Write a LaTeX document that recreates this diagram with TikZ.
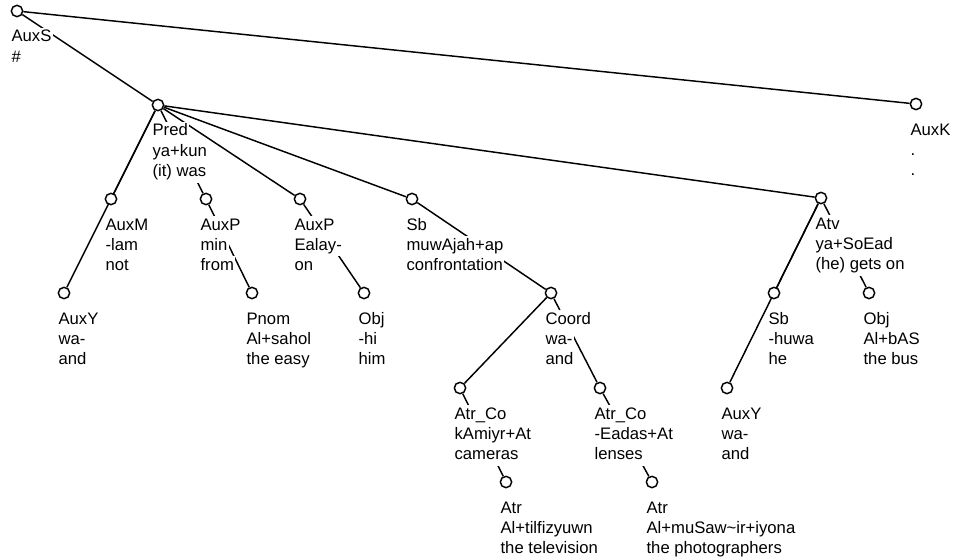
\documentclass[tikz,border=0pt]{standalone}
\usepackage{fontspec}
\setmainfont{Liberation Sans}
\usetikzlibrary{backgrounds}
\setlength{\fboxsep}{1pt}
% each text line sits on its own white box of full line height,
% so edges pass behind the label without showing between its lines
\newcommand\linestrut{\rule[-3.6pt]{0pt}{13.2pt}}
\newcommand\wb[1]{\colorbox{white}{\linestrut#1}}
\newcommand\twolines[2]{\vtop{\hbox{\wb{#1}}\hbox{\wb{#2}}}}
\newcommand\threelines[3]{\vtop{\hbox{\wb{#1}}\hbox{\wb{#2}}\hbox{\wb{#3}}}}
\tikzset{
  tok/.style={circle, draw=black, fill=white, line width=1.1pt, minimum size=8.5pt, inner sep=0pt},
  lab/.style={anchor=base west, inner sep=0pt, font=\fontsize{12.5}{15.2}\selectfont},
  edge/.style={line width=1.1pt, black}
}
\begin{document}
\begin{tikzpicture}[x=0.75pt, y=-0.75pt]
\useasboundingbox (0,0) rectangle (957,560);

% tree nodes
\node[tok] (root)   at (17,11)  {};
\node[tok] (auxk)   at (916,104) {};
\node[tok] (pred)   at (158,105) {};
\node[tok] (auxm)   at (111,199) {};
\node[tok] (auxpa)  at (206,199) {};
\node[tok] (auxpb)  at (300,199) {};
\node[tok] (sb)     at (412,199) {};
\node[tok] (atv)    at (821,198) {};
\node[tok] (auxya)  at (64,293)  {};
\node[tok] (pnom)   at (252,293) {};
\node[tok] (obja)   at (364,293) {};
\node[tok] (coord)  at (551,293) {};
\node[tok] (sbb)    at (774,293) {};
\node[tok] (objb)   at (869,293) {};
\node[tok] (atrcoa) at (460,388) {};
\node[tok] (atrcob) at (600,388) {};
\node[tok] (auxyb)  at (727,388) {};
\node[tok] (atra)   at (506,482) {};
\node[tok] (atrb)   at (652,482) {};

% labels: function, form, gloss
\node[lab] (l-root)   at ([shift={(-7,31)}]root.center)   {\twolines{AuxS}{\#}};
\node[lab] (l-auxk)   at ([shift={(-7,31)}]auxk.center)   {\threelines{AuxK}{.}{.}};
\node[lab] (l-pred)   at ([shift={(-7,31)}]pred.center)   {\threelines{Pred}{ya+kun}{(it) was}};
\node[lab] (l-auxm)   at ([shift={(-7,31)}]auxm.center)   {\threelines{AuxM}{-lam}{not}};
\node[lab] (l-auxpa)  at ([shift={(-7,31)}]auxpa.center)  {\threelines{AuxP}{min}{from}};
\node[lab] (l-auxpb)  at ([shift={(-7,31)}]auxpb.center)  {\threelines{AuxP}{Ealay-}{on}};
\node[lab] (l-sb)     at ([shift={(-7,31)}]sb.center)     {\threelines{Sb}{muwAjah+ap}{confrontation}};
\node[lab] (l-atv)    at ([shift={(-7,31)}]atv.center)    {\threelines{Atv}{ya+SoEad}{(he) gets on}};
\node[lab] (l-auxya)  at ([shift={(-7,31)}]auxya.center)  {\threelines{AuxY}{wa-}{and}};
\node[lab] (l-pnom)   at ([shift={(-7,31)}]pnom.center)   {\threelines{Pnom}{Al+sahol}{the easy}};
\node[lab] (l-obja)   at ([shift={(-7,31)}]obja.center)   {\threelines{Obj}{-hi}{him}};
\node[lab] (l-coord)  at ([shift={(-7,31)}]coord.center)  {\threelines{Coord}{wa-}{and}};
\node[lab] (l-sbb)    at ([shift={(-7,31)}]sbb.center)    {\threelines{Sb}{-huwa}{he}};
\node[lab] (l-objb)   at ([shift={(-7,31)}]objb.center)   {\threelines{Obj}{Al+bAS}{the bus}};
\node[lab] (l-atrcoa) at ([shift={(-7,31)}]atrcoa.center) {\threelines{Atr\_Co}{kAmiyr+At}{cameras}};
\node[lab] (l-atrcob) at ([shift={(-7,31)}]atrcob.center) {\threelines{Atr\_Co}{-Eadas+At}{lenses}};
\node[lab] (l-auxyb)  at ([shift={(-7,31)}]auxyb.center)  {\threelines{AuxY}{wa-}{and}};
\node[lab] (l-atra)   at ([shift={(-7,31)}]atra.center)   {\threelines{Atr}{Al+tilfizyuwn}{the television}};
\node[lab] (l-atrb)   at ([shift={(-7,31)}]atrb.center)   {\threelines{Atr}{Al+muSaw\textasciitilde ir+iyona}{the photographers}};

% dependency edges, behind nodes and labels
\begin{scope}[on background layer]
\draw[edge] (root) -- (pred);
\draw[edge] (root) -- (auxk);
\draw[edge] (pred) -- (auxya);
\draw[edge] (pred) -- (auxm);
\draw[edge] (pred) -- (auxpa);
\draw[edge] (pred) -- (auxpb);
\draw[edge] (pred) -- (sb);
\draw[edge] (pred) -- (atv);
\draw[edge] (auxpa) -- (pnom);
\draw[edge] (auxpb) -- (obja);
\draw[edge] (sb) -- (coord);
\draw[edge] (coord) -- (atrcoa);
\draw[edge] (coord) -- (atrcob);
\draw[edge] (atrcoa) -- (atra);
\draw[edge] (atrcob) -- (atrb);
\draw[edge] (atv) -- (auxyb);
\draw[edge] (atv) -- (sbb);
\draw[edge] (atv) -- (objb);
\end{scope}
\end{tikzpicture}
\end{document}
